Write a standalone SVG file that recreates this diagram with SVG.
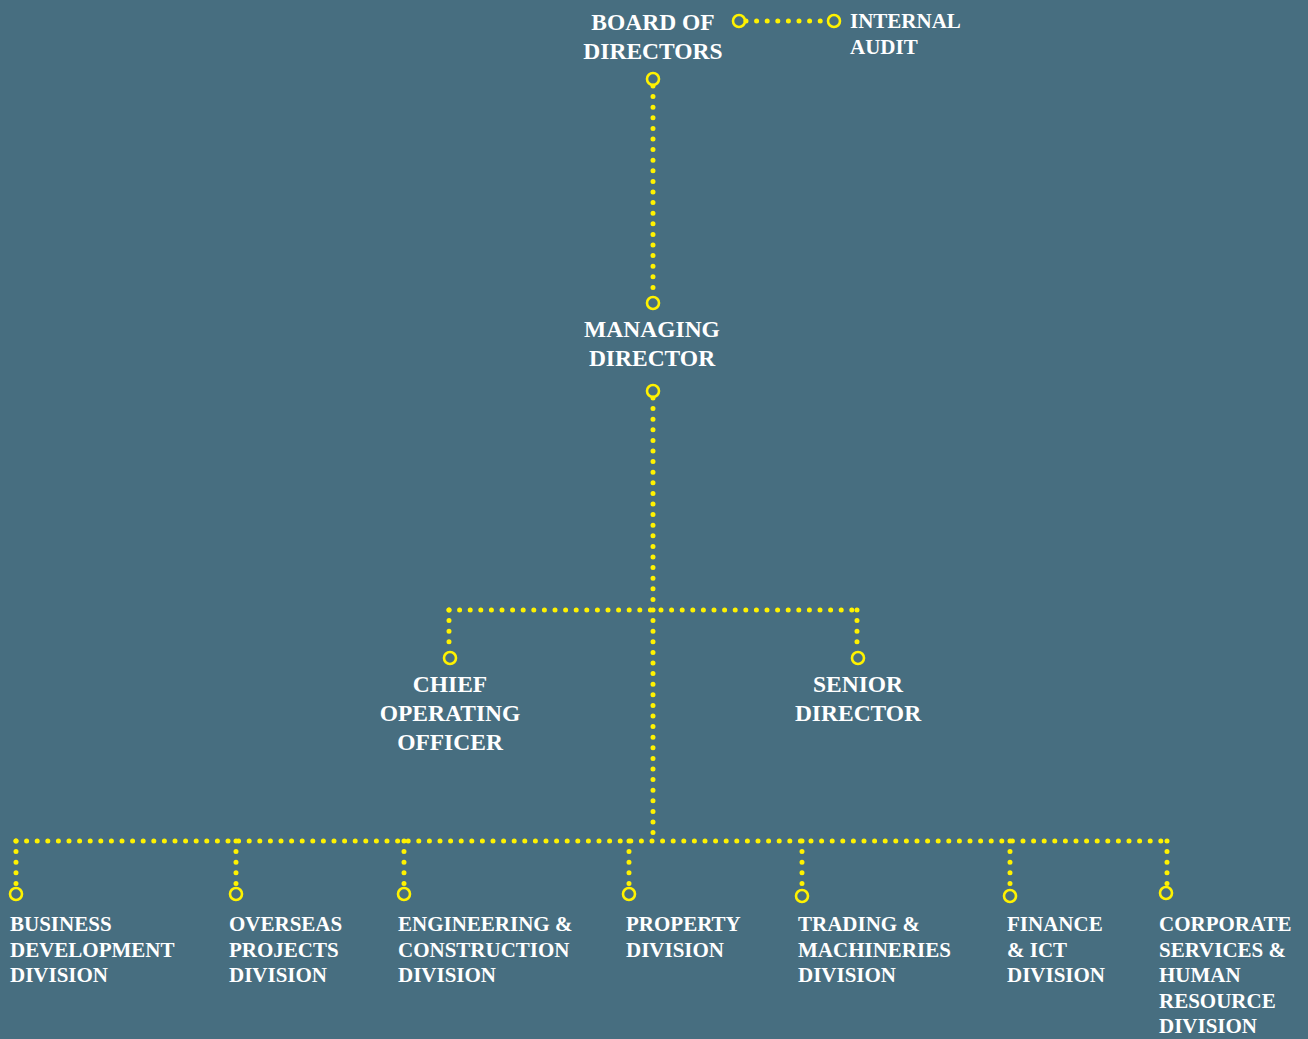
<svg xmlns="http://www.w3.org/2000/svg" width="1308" height="1039" viewBox="0 0 1308 1039">
<style>
.bg{fill:#476e80}
.dot{fill:none;stroke:#fff200;stroke-width:5;stroke-linecap:round;stroke-dasharray:0 10.6}
.port{fill:none;stroke:#fff200;stroke-width:2.6}
.t{font-family:"Liberation Serif","Times New Roman",serif;font-weight:bold;fill:#ffffff}
.big{font-size:23.5px;text-anchor:middle}
.sm{font-size:21px}
</style>
<rect class="bg" x="0" y="0" width="1308" height="1039"/>
<g id="connectors">
<path class="dot" d="M746 21 H828"/>
<path class="dot" d="M653 86 V297"/>
<path class="dot" d="M653 398 V841"/>
<path class="dot" d="M449 610 H857"/>
<path class="dot" d="M449 610 V651"/>
<path class="dot" d="M857 610 V651"/>
<path class="dot" d="M16 841 H1168"/>
<path class="dot" d="M16 841 V887"/>
<path class="dot" d="M236 841 V887"/>
<path class="dot" d="M404 841 V887"/>
<path class="dot" d="M629 841 V887"/>
<path class="dot" d="M802 841 V889"/>
<path class="dot" d="M1010 841 V889"/>
<path class="dot" d="M1167 841 V887"/>
</g>
<g id="board">
<text class="t big" x="653" y="30">BOARD OF</text>
<text class="t big" x="653" y="59">DIRECTORS</text>
<circle class="port" cx="739" cy="21" r="6"/>
<circle class="port" cx="653" cy="79" r="6"/>
</g>
<g id="audit">
<circle class="port" cx="834" cy="21" r="6"/>
<text class="t sm" x="850" y="28">INTERNAL</text>
<text class="t sm" x="850" y="54">AUDIT</text>
</g>
<g id="md">
<circle class="port" cx="653" cy="303" r="6"/>
<text class="t big" x="652" y="337">MANAGING</text>
<text class="t big" x="652" y="366">DIRECTOR</text>
<circle class="port" cx="653" cy="391" r="6"/>
</g>
<g id="coo">
<circle class="port" cx="450" cy="658" r="6"/>
<text class="t big" x="450" y="692">CHIEF</text>
<text class="t big" x="450" y="721">OPERATING</text>
<text class="t big" x="450" y="750">OFFICER</text>
</g>
<g id="sd">
<circle class="port" cx="858" cy="658" r="6"/>
<text class="t big" x="858" y="692">SENIOR</text>
<text class="t big" x="858" y="721">DIRECTOR</text>
</g>
<g id="bdd">
<circle class="port" cx="16" cy="894" r="6"/>
<text class="t sm" x="10" y="931">BUSINESS</text>
<text class="t sm" x="10" y="957">DEVELOPMENT</text>
<text class="t sm" x="10" y="982">DIVISION</text>
</g>
<g id="opd">
<circle class="port" cx="236" cy="894" r="6"/>
<text class="t sm" x="229" y="931">OVERSEAS</text>
<text class="t sm" x="229" y="957">PROJECTS</text>
<text class="t sm" x="229" y="982">DIVISION</text>
</g>
<g id="ecd">
<circle class="port" cx="404" cy="894" r="6"/>
<text class="t sm" x="398" y="931">ENGINEERING &amp;</text>
<text class="t sm" x="398" y="957">CONSTRUCTION</text>
<text class="t sm" x="398" y="982">DIVISION</text>
</g>
<g id="pd">
<circle class="port" cx="629" cy="894" r="6"/>
<text class="t sm" x="626" y="931">PROPERTY</text>
<text class="t sm" x="626" y="957">DIVISION</text>
</g>
<g id="tmd">
<circle class="port" cx="802" cy="896" r="6"/>
<text class="t sm" x="798" y="931">TRADING &amp;</text>
<text class="t sm" x="798" y="957">MACHINERIES</text>
<text class="t sm" x="798" y="982">DIVISION</text>
</g>
<g id="fid">
<circle class="port" cx="1010" cy="896" r="6"/>
<text class="t sm" x="1007" y="931">FINANCE</text>
<text class="t sm" x="1007" y="957">&amp; ICT</text>
<text class="t sm" x="1007" y="982">DIVISION</text>
</g>
<g id="cshr">
<circle class="port" cx="1166" cy="893" r="6"/>
<text class="t sm" x="1159" y="931">CORPORATE</text>
<text class="t sm" x="1159" y="957">SERVICES &amp;</text>
<text class="t sm" x="1159" y="982">HUMAN</text>
<text class="t sm" x="1159" y="1008">RESOURCE</text>
<text class="t sm" x="1159" y="1033">DIVISION</text>
</g>
</svg>
